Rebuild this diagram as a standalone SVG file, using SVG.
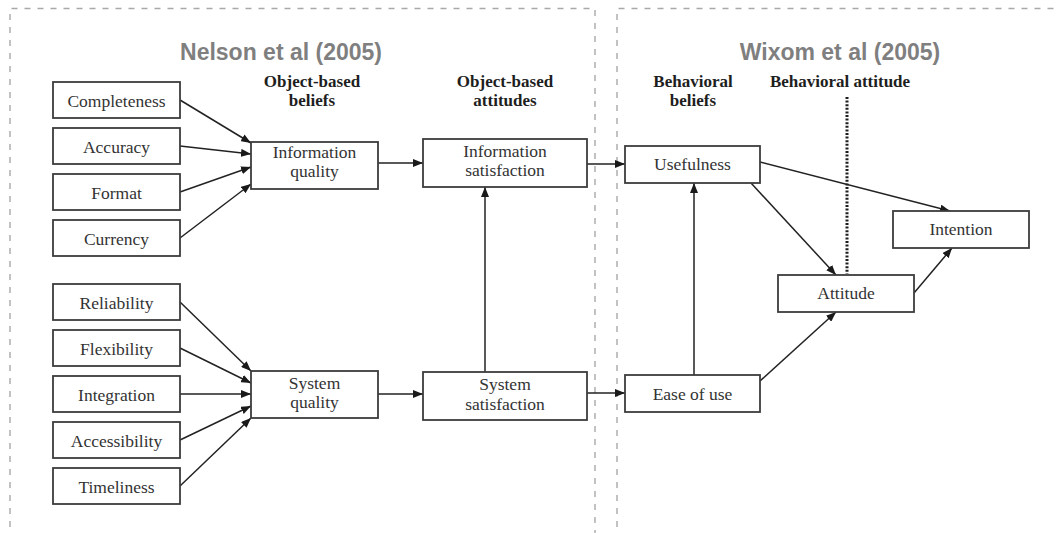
<svg xmlns="http://www.w3.org/2000/svg" width="1056" height="533" viewBox="0 0 1056 533">
  <style>
    .frame { fill: none; stroke: #a9a9a9; stroke-width: 1.4; stroke-dasharray: 6 7; }
    .box rect { fill: #ffffff; stroke: #3c3c3c; stroke-width: 1.8; }
    .box text { font-family: "Liberation Serif", "Times New Roman", serif; font-size: 17.5px; fill: #333333; text-anchor: middle; }
    .head { font-family: "Liberation Serif", "Times New Roman", serif; font-size: 17px; font-weight: bold; fill: #1e1e1e; text-anchor: middle; }
    .title { font-family: "Liberation Sans", Arial, sans-serif; font-size: 23px; font-weight: bold; fill: #7f7f7f; text-anchor: middle; }
    .edge { fill: none; stroke: #222222; stroke-width: 1.5; marker-end: url(#arrow); }
    .divider { fill: none; stroke: #1e1e1e; stroke-width: 3; stroke-dasharray: 2 1.6; }
  </style>
  <defs>
    <marker id="arrow" markerUnits="userSpaceOnUse" markerWidth="10" markerHeight="8" refX="10" refY="4" orient="auto">
      <path d="M0,0 L10,4 L0,8 Z" fill="#1a1a1a"/>
    </marker>
  </defs>

  <rect width="1056" height="533" fill="#ffffff"/>

  <!-- study frames -->
  <path class="frame" d="M10,540 V8.5 H595 V540"/>
  <path class="frame" d="M617,540 V8.5 H1060"/>

  <!-- frame titles and column headings -->
  <text class="title" x="281" y="60">Nelson et al (2005)</text>
  <text class="title" x="840" y="60">Wixom et al (2005)</text>
  <text class="head" x="312" y="87">Object-based</text>
  <text class="head" x="312" y="106">beliefs</text>
  <text class="head" x="505" y="87">Object-based</text>
  <text class="head" x="505" y="106">attitudes</text>
  <text class="head" x="693" y="87">Behavioral</text>
  <text class="head" x="693" y="106">beliefs</text>
  <text class="head" x="840" y="87">Behavioral attitude</text>

  <!-- dotted divider under behavioral attitude -->
  <line class="divider" x1="847" y1="97" x2="847" y2="274"/>

  <!-- connectors -->
  <g id="connectors">
    <line class="edge" x1="180" y1="100" x2="251" y2="143"/>
    <line class="edge" x1="180" y1="146" x2="251" y2="154"/>
    <line class="edge" x1="180" y1="192" x2="251" y2="167"/>
    <line class="edge" x1="180" y1="238" x2="251" y2="184"/>

    <line class="edge" x1="180" y1="302" x2="251" y2="371"/>
    <line class="edge" x1="180" y1="348" x2="251" y2="383"/>
    <line class="edge" x1="180" y1="394" x2="251" y2="394"/>
    <line class="edge" x1="180" y1="440" x2="251" y2="406"/>
    <line class="edge" x1="180" y1="486" x2="251" y2="418"/>

    <line class="edge" x1="378" y1="163" x2="423" y2="163"/>
    <line class="edge" x1="378" y1="394" x2="423" y2="394"/>
    <line class="edge" x1="485" y1="372" x2="485" y2="187"/>

    <line class="edge" x1="587" y1="164" x2="625" y2="164"/>
    <line class="edge" x1="587" y1="393" x2="625" y2="393"/>
    <line class="edge" x1="694" y1="375" x2="694" y2="183"/>

    <line class="edge" x1="760" y1="162" x2="950" y2="211"/>
    <line class="edge" x1="751" y1="183" x2="836" y2="275"/>
    <line class="edge" x1="760" y1="381" x2="836" y2="312"/>
    <line class="edge" x1="914" y1="293" x2="952" y2="248"/>
  </g>

  <!-- information quality dimensions -->
  <g id="completeness" class="box"><rect x="53" y="82" width="127" height="36"/><text x="116.5" y="106.5">Completeness</text></g>
  <g id="accuracy" class="box"><rect x="53" y="128" width="127" height="36"/><text x="116.5" y="152.5">Accuracy</text></g>
  <g id="format" class="box"><rect x="53" y="174" width="127" height="36"/><text x="116.5" y="198.5">Format</text></g>
  <g id="currency" class="box"><rect x="53" y="220" width="127" height="36"/><text x="116.5" y="244.5">Currency</text></g>

  <!-- system quality dimensions -->
  <g id="reliability" class="box"><rect x="53" y="284" width="127" height="36"/><text x="116.5" y="308.5">Reliability</text></g>
  <g id="flexibility" class="box"><rect x="53" y="330" width="127" height="36"/><text x="116.5" y="354.5">Flexibility</text></g>
  <g id="integration" class="box"><rect x="53" y="376" width="127" height="36"/><text x="116.5" y="400.5">Integration</text></g>
  <g id="accessibility" class="box"><rect x="53" y="422" width="127" height="36"/><text x="116.5" y="446.5">Accessibility</text></g>
  <g id="timeliness" class="box"><rect x="53" y="468" width="127" height="36"/><text x="116.5" y="492.5">Timeliness</text></g>

  <!-- object-based beliefs -->
  <g id="information-quality" class="box"><rect x="251" y="142" width="127" height="47"/><text x="314.5" y="158">Information</text><text x="314.5" y="177">quality</text></g>
  <g id="system-quality" class="box"><rect x="251" y="371" width="127" height="47"/><text x="314.5" y="389">System</text><text x="314.5" y="408">quality</text></g>

  <!-- object-based attitudes -->
  <g id="information-satisfaction" class="box"><rect x="423" y="139" width="164" height="48"/><text x="505" y="157">Information</text><text x="505" y="176">satisfaction</text></g>
  <g id="system-satisfaction" class="box"><rect x="423" y="372" width="164" height="48"/><text x="505" y="390">System</text><text x="505" y="410">satisfaction</text></g>

  <!-- behavioral beliefs -->
  <g id="usefulness" class="box"><rect x="625" y="146" width="135" height="37"/><text x="692.5" y="169.5">Usefulness</text></g>
  <g id="ease-of-use" class="box"><rect x="625" y="375" width="135" height="37"/><text x="692.5" y="400">Ease of use</text></g>

  <!-- behavioral attitude and intention -->
  <g id="attitude" class="box"><rect x="778" y="275" width="136" height="37"/><text x="846" y="299">Attitude</text></g>
  <g id="intention" class="box"><rect x="893" y="211" width="136" height="37"/><text x="961" y="235">Intention</text></g>
</svg>
